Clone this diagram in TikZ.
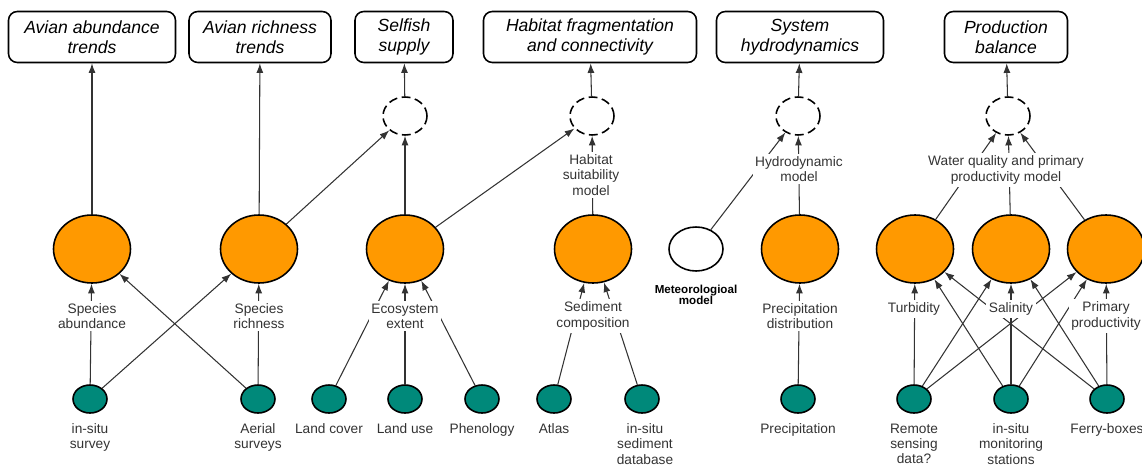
\documentclass[tikz,border=0pt]{standalone}
\usepackage{fontspec}
\setmainfont{Liberation Sans}
\usetikzlibrary{positioning,arrows.meta,shapes.geometric,backgrounds}

\definecolor{evorange}{RGB}{255,153,0}
\definecolor{srcteal}{RGB}{0,137,122}

\tikzset{
  goal/.style={draw, rounded corners=5pt, line width=0.9pt, align=center,
    minimum height=1.02cm, inner sep=1pt,
    font=\itshape\fontsize{10}{11.6}\selectfont},
  agg/.style={ellipse, draw, dash pattern=on 5pt off 2.6pt, line width=0.9pt,
    minimum width=0.88cm, minimum height=0.76cm, inner sep=0pt},
  ev/.style={ellipse, draw, fill=evorange, line width=0.9pt,
    minimum width=1.54cm, minimum height=1.36cm, inner sep=0pt},
  model/.style={ellipse, draw, fill=white, line width=0.9pt,
    minimum width=1.08cm, minimum height=0.88cm, inner sep=0pt},
  src/.style={ellipse, draw, fill=srcteal, line width=0.9pt,
    minimum width=0.68cm, minimum height=0.56cm, inner sep=0pt},
  lbl/.style={fill=white, align=center, inner sep=1.5pt, text=black!80,
    font=\fontsize{7.8}{8.6}\selectfont},
  srctxt/.style={align=center, inner sep=1pt, text=black!80,
    font=\fontsize{7.8}{8.6}\selectfont},
  modtxt/.style={align=center, inner sep=0pt,
    font=\bfseries\fontsize{6.6}{6.4}\selectfont}
}

\begin{document}
\begin{tikzpicture}[x=0.02cm,y=-0.02cm,>={Latex[length=5.5pt,width=4pt]},
  every edge/.append style={line width=0.6pt, draw=black!80}]
\useasboundingbox (0,0) rectangle (1142,466);

% indicators
\node[goal, minimum width=3.34cm] at (92,37) (b1) {Avian abundance\\trends};
\node[goal, minimum width=2.84cm] at (260,37) (b2) {Avian richness\\trends};
\node[goal, minimum width=1.96cm] at (404,37) (b3) {Selfish\\supply};
\node[goal, minimum width=4.26cm] at (590,37) (b4) {Habitat fragmentation\\and connectivity};
\node[goal, minimum width=3.34cm] at (800,37) (b5) {System\\hydrodynamics};
\node[goal, minimum width=2.46cm] at (1006,37) (b6) {Production\\balance};

% combined products
\node[agg] at (405,116) (d1) {};
\node[agg] at (592,116) (d2) {};
\node[agg] at (798,116) (d3) {};
\node[agg] at (1008,116) (d4) {};

% essential variables
\node[ev] at (92,249) (o1) {};
\node[ev] at (259,249) (o2) {};
\node[ev] at (405,249) (o3) {};
\node[ev] at (593,249) (o4) {};
\node[ev] at (800,249) (o5) {};
\node[ev] at (915,249) (o6) {};
\node[ev] at (1011,249) (o7) {};
\node[ev] at (1106,249) (o8) {};

\node[model] at (696,249) (m) {};
\node[modtxt, below=0.25cm of m] (mt) {Meteorologioal\\model};

% data sources
\node[src] at (90,399) (s1) {};
\node[src] at (258,399) (s2) {};
\node[src] at (329,399) (s3) {};
\node[src] at (405,399) (s4) {};
\node[src] at (482,399) (s5) {};
\node[src] at (554,399) (s6) {};
\node[src] at (642,399) (s7) {};
\node[src] at (798,399) (s8) {};
\node[src] at (914,399) (s9) {};
\node[src] at (1011,399) (s10) {};
\node[src] at (1107,399) (s11) {};

\node[srctxt, below=0.16cm of s1] (s1t) {in-situ\\survey};
\node[srctxt, below=0.16cm of s2] (s2t) {Aerial\\surveys};
\node[srctxt, below=0.16cm of s3] (s3t) {Land cover};
\node[srctxt, below=0.16cm of s4] (s4t) {Land use};
\node[srctxt, below=0.16cm of s5] (s5t) {Phenology};
\node[srctxt, below=0.16cm of s6] (s6t) {Atlas};
\node[srctxt, below=0.16cm of s7, xshift=0.06cm] (s7t) {in-situ\\sediment\\database};
\node[srctxt, below=0.16cm of s8] (s8t) {Precipitation};
\node[srctxt, below=0.16cm of s9] (s9t) {Remote\\sensing\\data?};
\node[srctxt, below=0.16cm of s10] (s10t) {in-situ\\monitoring\\stations};
\node[srctxt, below=0.16cm of s11] (s11t) {Ferry-boxes};

% labels sitting on the links
\node[lbl] at (92,316) (l1) {Species\\abundance};
\node[lbl] at (259,316) (l2) {Species\\richness};
\node[lbl] at (405,316) (l3) {Ecosystem\\extent};
\node[lbl] at (593,316) (l4) {Sediment\\composition};
\node[lbl] at (800,316) (l5) {Precipitation\\distribution};
\node[lbl] at (914,309) (l6) {Turbidity};
\node[lbl] at (1011,309) (l7) {Salinity};
\node[lbl] at (1106,316) (l8) {Primary\\productivity};
\node[lbl] at (591,175) (l9) {Habitat\\suitability\\model};
\node[lbl] at (799,169) (l10) {Hydrodynamic\\model};
\node[lbl] at (1006,170) (l11) {Water quality and primary\\productivity model};

\begin{scope}[on background layer]
\path[->]
(d1) edge (b3)
(d2) edge (b4)
(d3) edge (b5)
(d4) edge (b6)
(o1) edge (b1)
(o2) edge (b2)
(o2) edge (d1)
(o3) edge (d1)
(o3) edge (d2)
(o4) edge (d2)
(m) edge (d3)
(o5) edge (d3)
(o6) edge (d4)
(o7) edge (d4)
(o8) edge (d4)
;
\path[->]
(s1) edge (o1)
(s1) edge (o2)
(s2) edge (o1)
(s2) edge (o2)
(s3) edge (o3)
(s4) edge (o3)
(s5) edge (o3)
(s6) edge (o4)
(s7) edge (o4)
(s8) edge (o5)
(s9) edge (o6)
(s9) edge (o7)
(s9) edge (o8)
(s10) edge (o6)
(s10) edge (o7)
(s10) edge (o8)
(s11) edge (o6)
(s11) edge (o7)
(s11) edge (o8)
;
\end{scope}
\end{tikzpicture}
\end{document}
